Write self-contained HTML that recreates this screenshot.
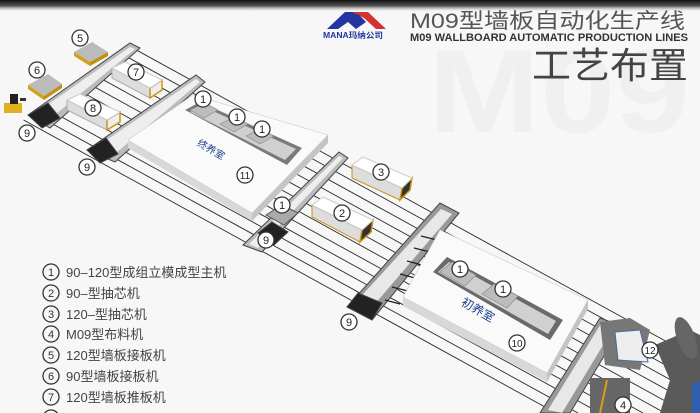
<!DOCTYPE html>
<html><head><meta charset="utf-8"><style>
html,body{margin:0;padding:0;background:#f7f7f7;}
svg{display:block;}
text{font-family:"Liberation Sans","Noto Sans CJK SC",sans-serif;}
</style></head><body>
<svg width="700" height="413" viewBox="0 0 700 413" xmlns="http://www.w3.org/2000/svg">
<defs>
<linearGradient id="top" x1="0" y1="0" x2="0" y2="1"><stop offset="0" stop-color="#111"/><stop offset="0.5" stop-color="#555"/><stop offset="1" stop-color="#f7f7f7" stop-opacity="0"/></linearGradient>
</defs>
<rect width="700" height="413" fill="#f7f7f7"/>
<text x="428" y="132" font-size="118" font-weight="bold" fill="#f0f0f0" textLength="262" lengthAdjust="spacingAndGlyphs">M09</text>
<rect width="700" height="12" fill="url(#top)"/>

<!-- rails -->
<g stroke="#2a2a2a" stroke-width="0.9">
<line x1="131.5" y1="47.3" x2="700" y2="360"/>
<line x1="121.7" y1="53.9" x2="700" y2="372"/>
<line x1="111.9" y1="60.5" x2="700" y2="384"/>
<line x1="102" y1="67" x2="700" y2="396"/>
<line x1="92.2" y1="73.7" x2="700" y2="408"/>
<line x1="82.4" y1="80.3" x2="687" y2="413"/>
<line x1="72.6" y1="86.9" x2="665" y2="413"/>
<line x1="62.8" y1="93.5" x2="643" y2="413"/>
<line x1="53" y1="100" x2="622" y2="413"/>
<line x1="43.2" y1="106.8" x2="600" y2="413"/>
<line x1="33.4" y1="113.4" x2="578" y2="413"/>
<line x1="23.6" y1="120" x2="556" y2="413"/>
</g>

<!-- ferry bars -->
<g stroke="#444" stroke-width="1">
<polygon points="28,115 130,43 140,48 50,128" fill="#bbb"/>
<polygon points="33,115 130,47 135,49 45,123" fill="#eee" stroke="none"/>
<polygon points="28,115 48,103 60,118 42,128" fill="#222"/>
<polygon points="87,150 196,75 205,82 115,162" fill="#bbb"/>
<polygon points="92,150 196,79 200,82 110,158" fill="#eee" stroke="none"/>
<polygon points="87,150 106,138 118,154 100,163" fill="#222"/>
<polygon points="243,245 339,152 348,158 262,252" fill="#bbb"/>
<polygon points="249,244 339,156 343,158 258,248" fill="#eee" stroke="none"/>
<polygon points="258,233 272,222 288,232 274,245" fill="#222"/>
<polygon points="347,307 440,203 459,213 372,320" fill="#999"/>
<polygon points="355,303 441,209 452,214 368,312" fill="#e8e8e8" stroke="none"/>
<polygon points="347,307 358,293 382,303 372,320" fill="#222"/>
<polygon points="540,413 600,318 622,326 570,413" fill="#999"/>
<polygon points="548,410 602,322 614,327 562,413" fill="#e8e8e8" stroke="none"/>
</g>
<g stroke="#222" stroke-width="1.2">
<line x1="385" y1="300" x2="400" y2="304"/><line x1="392" y1="287" x2="408" y2="291"/>
<line x1="400" y1="274" x2="415" y2="278"/><line x1="407" y1="261" x2="422" y2="265"/>
<line x1="414" y1="248" x2="430" y2="252"/><line x1="421" y1="236" x2="437" y2="240"/>
</g>

<!-- room 11 -->
<polygon points="128,140 252,213 252,221 128,148" fill="#d8d8d8"/>
<polygon points="252,213 328,135 328,143 252,221" fill="#c4c4c4"/>
<polygon points="128,140 193,95 328,135 252,213" fill="#fafafa" stroke="#ccc" stroke-width="0.6"/>
<polygon points="185,110 200,102 302,148 287,165" fill="#7a7a7a"/>
<polygon points="190,112 202,106 296,149 285,160" fill="#d0d0d0"/>
<g fill="#bcbcbc" stroke="#888" stroke-width="0.6">
<polygon points="190,110 205,103 218,110 204,118"/>
<polygon points="220,124 234,117 248,124 234,132"/>
<polygon points="246,136 260,129 274,136 260,144"/>
</g>
<text x="195" y="150" font-size="10" fill="#1f3f8f" transform="rotate(30 205 150)">终养室</text>

<!-- room 10 -->
<polygon points="403,297 547,373 547,382 403,306" fill="#d8d8d8"/>
<polygon points="547,373 588,300 588,309 547,382" fill="#c4c4c4"/>
<polygon points="403,297 440,230 588,300 547,373" fill="#fafafa" stroke="#ccc" stroke-width="0.6"/>
<polygon points="433,272 447,257 563,320 550,340" fill="#6a6a6a"/>
<polygon points="438,272 449,262 556,321 548,334" fill="#d0d0d0"/>
<g fill="#bcbcbc" stroke="#888" stroke-width="0.6">
<polygon points="440,272 452,262 476,275 465,286"/>
<polygon points="482,294 494,284 518,296 507,308"/>
</g>
<text x="458" y="313" font-size="12" fill="#1f3f8f" transform="rotate(30 475 313)">初养室</text>

<!-- boxes -->
<g stroke="#b58a10" stroke-width="1">
<polygon points="112,68 150,88 150,98 112,78" fill="#ddd" stroke="#aaa"/>
<polygon points="150,88 162,80 162,90 150,98" fill="#eee" stroke="#c8960f" stroke-width="1.5"/>
<polygon points="112,68 125,62 162,80 150,88" fill="#fff" stroke="#ccc"/>
<polygon points="67,100 107,120 107,130 67,110" fill="#ddd" stroke="#aaa"/>
<polygon points="107,120 120,112 120,122 107,130" fill="#eee" stroke="#c8960f" stroke-width="1.5"/>
<polygon points="67,100 80,94 120,112 107,120" fill="#fff" stroke="#ccc"/>
<polygon points="352,165 402,188 400,200 352,178" fill="#ddd" stroke="#c8960f"/>
<polygon points="402,188 412,178 410,190 400,200" fill="#333" stroke="#c8960f" stroke-width="1.5"/>
<polygon points="352,165 363,157 412,178 402,188" fill="#fff" stroke="#ccc"/>
<polygon points="312,205 362,230 360,242 312,217" fill="#ddd" stroke="#c8960f"/>
<polygon points="362,230 373,220 371,232 360,242" fill="#333" stroke="#c8960f" stroke-width="1.5"/>
<polygon points="312,205 323,197 373,220 362,230" fill="#fff" stroke="#ccc"/>
<polygon points="266,215 282,205 298,213 284,225" fill="#aaa" stroke="#555"/>
</g>
<polygon points="74,52 92,42 108,52 90,62" fill="#bbb"/><polygon points="74,52 90,62 90,66 74,56" fill="#d4a017"/><polygon points="90,62 108,52 108,56 90,66" fill="#c09010"/>
<polygon points="28,85 48,74 62,84 44,96" fill="#bbb"/><polygon points="28,85 44,96 44,100 28,89" fill="#d4a017"/><polygon points="44,96 62,84 62,88 44,100" fill="#c09010"/>
<rect x="4" y="103" width="18" height="10" fill="#e0b020"/><rect x="10" y="94" width="8" height="10" fill="#222"/><rect x="20" y="98" width="6" height="3" fill="#333"/>
<!-- machine 12 / 4 area -->
<polygon points="600,322 630,318 650,330 640,370 605,365" fill="#777"/>
<polygon points="615,332 640,330 648,362 618,360" fill="#eee" stroke="#4a6aa0"/>
<polygon points="655,345 690,330 700,335 700,413 660,413 670,380" fill="#5a5a5a"/>
<ellipse cx="686" cy="338" rx="9" ry="22" fill="#666" transform="rotate(-20 686 338)"/>
<rect x="590" y="378" width="40" height="35" fill="#666"/><line x1="607" y1="380" x2="600" y2="413" stroke="#d4a017" stroke-width="2"/>
<polygon points="692,385 700,381 700,413 692,413" fill="#2f5fb0"/>

<!-- labels -->
<g font-size="11" text-anchor="middle" fill="#222">
<g fill="#fff" stroke="#333" stroke-width="1.3">
<circle cx="80" cy="38" r="8"/><circle cx="37" cy="70" r="8"/><circle cx="136" cy="72" r="8"/><circle cx="93" cy="108" r="8"/>
<circle cx="27" cy="133" r="8"/><circle cx="87" cy="167" r="8"/><circle cx="266" cy="240" r="8"/><circle cx="349" cy="322" r="8"/>
<circle cx="203" cy="99" r="8"/><circle cx="237" cy="117" r="8"/><circle cx="262" cy="129" r="8"/><circle cx="282" cy="205" r="8"/>
<circle cx="460" cy="269" r="8"/><circle cx="503" cy="289" r="8"/><circle cx="245" cy="175" r="8"/><circle cx="342" cy="213" r="8"/>
<circle cx="381" cy="172" r="8"/><circle cx="517" cy="343" r="8"/><circle cx="650" cy="350" r="8"/><circle cx="623" cy="405" r="8"/>
</g>
<text x="80" y="42">5</text><text x="37" y="74">6</text><text x="136" y="76">7</text><text x="93" y="112">8</text>
<text x="27" y="137">9</text><text x="87" y="171">9</text><text x="266" y="244">9</text><text x="349" y="326">9</text>
<text x="203" y="103">1</text><text x="237" y="121">1</text><text x="262" y="133">1</text><text x="282" y="209">1</text>
<text x="460" y="273">1</text><text x="503" y="293">1</text><text x="245" y="179" font-size="10">11</text><text x="342" y="217">2</text>
<text x="381" y="176">3</text><text x="517" y="347" font-size="10">10</text><text x="650" y="354" font-size="10">12</text><text x="623" y="409">4</text>
</g>

<!-- legend -->
<g fill="none" stroke="#333" stroke-width="1.3">
<circle cx="51" cy="272" r="8"/><circle cx="51" cy="293" r="8"/><circle cx="51" cy="314" r="8"/><circle cx="51" cy="334" r="8"/>
<circle cx="51" cy="355" r="8"/><circle cx="51" cy="376" r="8"/><circle cx="51" cy="397" r="8"/><circle cx="51" cy="418" r="8"/>
</g>
<g font-size="11" text-anchor="middle" fill="#333">
<text x="51" y="276">1</text><text x="51" y="297">2</text><text x="51" y="318">3</text><text x="51" y="338">4</text>
<text x="51" y="359">5</text><text x="51" y="380">6</text><text x="51" y="401">7</text>
</g>
<g font-size="13" fill="#444">
<text x="66" y="277">90–120型成组立模成型主机</text>
<text x="66" y="298">90–型抽芯机</text>
<text x="66" y="319">120–型抽芯机</text>
<text x="66" y="339">M09型布料机</text>
<text x="66" y="360">120型墙板接板机</text>
<text x="66" y="381">90型墙板接板机</text>
<text x="66" y="402">120型墙板推板机</text>
</g>

<!-- header -->
<polygon points="327,29 345,12 356,12 364,20 356,29 348,22 338,29" fill="#2335a0"/>
<polygon points="352,12 368,12 386,29 376,29 364,18" fill="#d63030"/>
<polygon points="350,20 358,14 366,22 356,29" fill="#2335a0"/>
<text x="323" y="38" font-size="8" font-weight="bold" fill="#2335a0" textLength="60" lengthAdjust="spacingAndGlyphs">MANA玛纳公司</text>
<text x="410" y="28" font-size="21" fill="#555" textLength="275" lengthAdjust="spacingAndGlyphs">M09型墙板自动化生产线</text>
<text x="410" y="41" font-size="11" font-weight="bold" fill="#333" textLength="278" lengthAdjust="spacingAndGlyphs">M09 WALLBOARD AUTOMATIC PRODUCTION LINES</text>
<text x="532" y="78" font-size="36" fill="#444" textLength="156" lengthAdjust="spacingAndGlyphs">工艺布置</text>
</svg>
</body></html>
